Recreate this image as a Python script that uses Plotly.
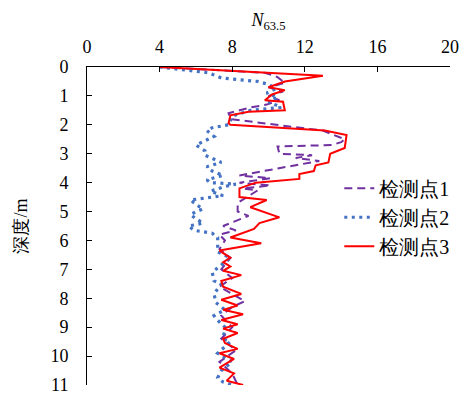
import plotly.graph_objects as go

# 检测点1 (purple dashed)
depth1 = [0, 0.2, 0.35, 0.55, 0.7, 0.85, 1.0, 1.15, 1.3, 1.4, 1.6, 1.8, 2.2, 2.5, 2.6, 2.7, 2.75, 3.0, 3.05, 3.15,
          3.25, 3.75, 3.85, 4.0, 4.1, 4.2, 4.27, 4.7, 5.0, 5.15, 5.5, 5.65, 5.8, 6.0, 6.3, 6.6, 7.0, 7.3, 7.6, 8.1,
          8.3, 8.6, 9.0, 9.4, 9.8, 10.2, 10.6, 11.0]
n1 = [4.0, 9.8, 10.5, 10.9, 10.0, 10.8, 10.0, 10.6, 9.9, 9.0, 7.8, 7.9, 13.0, 14.2, 14.0, 13.5, 10.5, 10.6, 12.4, 11.5,
      12.8, 8.4, 10.1, 8.4, 10.1, 8.6, 9.4, 8.3, 8.3, 8.9, 7.5, 8.2, 7.3, 7.6, 7.3, 7.9, 7.4, 8.0, 7.3, 8.7,
      8.0, 7.4, 8.0, 7.4, 8.2, 7.3, 8.0, 8.3]

# 检测点2 (blue dotted)
depth2 = [0, 0.2, 0.38, 0.45, 0.5, 0.6, 0.75, 0.9, 1.05, 1.2, 1.4, 1.5, 1.7, 2.0, 2.1, 2.2, 2.4, 2.7, 2.9, 3.05,
          3.2, 3.3, 3.45, 3.6, 3.75, 3.9, 4.0, 4.05, 4.15, 4.3, 4.45, 4.6, 4.8, 4.9, 5.1, 5.25, 5.4, 5.5, 5.65, 5.75,
          5.9, 6.1, 6.4, 6.6, 6.9, 7.1, 7.4, 7.5, 7.85, 8.15, 8.4, 8.6, 8.7, 9.0, 9.4, 9.5, 9.9, 10.2, 10.5, 10.75,
          10.9, 11.0]
n2 = [4.0, 6.7, 7.4, 8.8, 9.4, 10.0, 10.4, 9.9, 10.5, 10.0, 10.7, 9.0, 8.0, 7.8, 6.9, 6.6, 7.0, 6.0, 6.5, 6.5,
      7.0, 7.4, 6.6, 6.9, 7.5, 6.6, 6.8, 8.2, 7.5, 6.8, 7.5, 5.7, 6.1, 6.4, 5.7, 6.0, 6.4, 5.6, 5.9, 6.9,
      7.2, 7.2, 7.2, 7.9, 7.3, 6.9, 7.0, 7.4, 7.0, 7.1, 7.6, 7.0, 7.1, 7.6, 7.5, 7.9, 7.2, 8.0, 7.4, 7.2,
      7.5, 8.0]

# 检测点3 (red solid)
depth3 = [0, 0.3, 0.5, 0.7, 0.8, 0.95, 1.15, 1.2, 1.5, 1.55, 1.67, 1.95, 2.0, 2.2, 2.35, 2.8, 3.0, 3.3, 3.4, 3.6,
          3.7, 3.87, 4.0, 4.2, 4.5, 4.6, 4.85, 5.2, 5.4, 5.6, 5.9, 6.1, 6.35, 6.6, 6.75, 6.9, 7.05, 7.2, 7.4, 7.6,
          7.85, 8.05, 8.25, 8.4, 8.55, 8.75, 8.9, 9.05, 9.2, 9.4, 9.55, 9.75, 9.9, 10.1, 10.4, 10.6, 10.85, 11.0]
n3 = [4.0, 13.0, 10.9, 10.0, 10.9, 10.2, 9.8, 10.8, 10.9, 8.9, 7.9, 7.8, 7.9, 13.1, 14.3, 14.2, 13.4, 13.3, 12.6, 12.5,
      11.7, 11.7, 9.3, 8.4, 8.4, 9.9, 9.0, 10.6, 9.5, 9.2, 7.9, 9.6, 7.3, 7.9, 7.5, 7.9, 7.5, 8.5, 7.4, 7.5,
      8.5, 7.4, 8.3, 7.5, 8.6, 7.4, 8.3, 7.5, 8.3, 7.5, 7.6, 8.3, 7.3, 8.1, 7.3, 8.1, 7.7, 8.6]

names = ["检测点1", "检测点2", "检测点3"]
x_ticks = [0, 4, 8, 12, 16, 20]
y_ticks = list(range(0, 12))

font = "Liberation Serif, Times New Roman, serif"

fig = go.Figure()
fig.add_trace(go.Scatter(x=n1, y=depth1, mode="lines", name=names[0],
                         line=dict(color="#7030A0", width=2, dash="8px,5px")))
fig.add_trace(go.Scatter(x=n2, y=depth2, mode="lines", name=names[1],
                         line=dict(color="#4472C4", width=3.2, dash="3px,4.5px")))
fig.add_trace(go.Scatter(x=n3, y=depth3, mode="lines", name=names[2],
                         line=dict(color="#FF0000", width=2)))

fig.update_layout(
    width=467, height=394,
    margin=dict(l=87, r=17, t=67, b=9),
    paper_bgcolor="white", plot_bgcolor="white",
    font=dict(family=font, size=17, color="#000000"),
    showlegend=True,
    legend=dict(x=0.695, y=0.68, xanchor="left", yanchor="top",
                bgcolor="rgba(0,0,0,0)", font=dict(size=20, family=font)),
    xaxis=dict(side="top", range=[0, 20], tickvals=x_ticks, ticks="inside", ticklen=5,
               tickcolor="black", showline=True, linecolor="black", linewidth=1,
               showgrid=False, zeroline=False, ticklabelstandoff=6, automargin=False,
               tickfont=dict(size=18), ticklabeloverflow="allow",
               title=dict(text="<i>N</i><sub>63.5</sub>", standoff=5, font=dict(size=18))),
    yaxis=dict(range=[11, 0], tickvals=y_ticks, ticks="inside", ticklen=5,
               tickcolor="black", showline=True, linecolor="black", linewidth=1,
               showgrid=False, zeroline=False, ticklabelstandoff=14, automargin=False,
               tickfont=dict(size=18), ticklabeloverflow="allow",
               title=dict(text="深度/m", standoff=18, font=dict(size=18))),
)

fig.write_html("out.html", config={"displayModeBar": False},
               post_script="document.body.style.margin='0px';document.body.style.overflow='hidden';")
